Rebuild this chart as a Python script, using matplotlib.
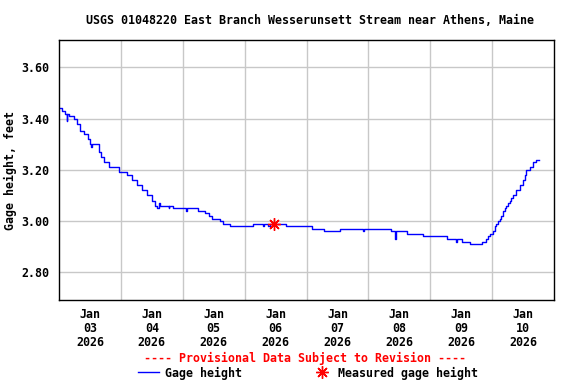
import matplotlib
matplotlib.use("Agg")
import matplotlib.pyplot as plt
from matplotlib.lines import Line2D

# hours since 2026-01-03 00:00, gage height (ft), step changes
hours = [0.0, 1.2, 2.5, 3.0, 3.2, 3.8, 5.7, 7.0, 8.3, 9.6, 11.1, 12.2, 12.5, 12.9,
         15.4, 16.1, 17.6, 19.3, 23.1, 26.4, 28.3, 30.3, 32.2, 34.1, 36.1, 37.4,
         38.0, 38.6, 39.3, 42.5, 42.8, 44.4, 49.4, 49.7, 54.1, 56.7, 58.0, 59.3,
         62.5, 63.8, 66.4, 75.2, 79.3, 79.6, 81.2, 81.9, 88.0, 98.0, 102.8, 109.0,
         118.0, 118.3, 128.6, 130.5, 130.8, 135.0, 141.2, 150.5, 153.9, 154.3,
         156.3, 159.3, 164.1, 165.8, 166.3, 167.0, 168.3, 169.0, 169.6, 170.3,
         170.9, 171.6, 172.2, 172.8, 173.5, 174.2, 174.8, 175.4, 176.1, 177.4,
         178.7, 179.9, 180.6, 181.2, 182.5, 183.8, 185.1, 186.1]
gage = [3.44, 3.43, 3.42, 3.39, 3.42, 3.41, 3.40, 3.38, 3.35, 3.34, 3.32, 3.30, 3.29, 3.30,
        3.27, 3.25, 3.23, 3.21, 3.19, 3.18, 3.16, 3.14, 3.12, 3.10, 3.08, 3.06,
        3.05, 3.07, 3.06, 3.05, 3.06, 3.05, 3.04, 3.05, 3.04, 3.03, 3.02, 3.01,
        3.00, 2.99, 2.98, 2.99, 2.98, 2.99, 2.98, 2.99, 2.98, 2.97, 2.96, 2.97,
        2.96, 2.97, 2.96, 2.93, 2.96, 2.95, 2.94, 2.93, 2.92, 2.93,
        2.92, 2.91, 2.92, 2.93, 2.94, 2.95, 2.96, 2.98, 2.99, 3.00,
        3.01, 3.02, 3.04, 3.05, 3.06, 3.07, 3.08, 3.09, 3.10, 3.12,
        3.14, 3.16, 3.18, 3.20, 3.21, 3.23, 3.24, 3.24]

meas_hours = [83.2]
meas_gage = [2.99]

day_labels = ["Jan\n03\n2026", "Jan\n04\n2026", "Jan\n05\n2026", "Jan\n06\n2026",
              "Jan\n07\n2026", "Jan\n08\n2026", "Jan\n09\n2026", "Jan\n10\n2026"]
ytick_vals = [2.80, 3.00, 3.20, 3.40, 3.60]

plt.rcParams['font.family'] = 'DejaVu Sans Mono'
plt.rcParams['font.weight'] = 'bold'
fs = 8.4

fig = plt.figure(figsize=(5.76, 3.84), dpi=100)
ax = fig.add_axes([59/576, 1 - 300/384, (554 - 59)/576, 260/384])

ax.plot(hours, gage, drawstyle='steps-post', color='#0000FF', lw=1.0)
ax.plot(meas_hours, meas_gage, linestyle='none', marker=(8, 2, 0), ms=9,
        mew=1.0, color='#FF0000')

ax.set_xlim(0, 192)
ax.set_ylim(2.692, 3.707)
ax.set_xticks([24 * i for i in range(1, 8)])
ax.set_xticks([12 + 24 * i for i in range(8)], minor=True)
ax.set_xticklabels([])
ax.set_xticklabels(day_labels, minor=True, fontsize=fs, fontweight='bold',
                   linespacing=1.1)
ax.set_yticks(ytick_vals)
ax.set_yticklabels([f"{v:.2f}" for v in ytick_vals], fontsize=fs, fontweight='bold')
ax.tick_params(axis='both', which='both', length=0)
ax.tick_params(axis='x', which='minor', pad=6)
ax.tick_params(axis='y', pad=7)
ax.grid(True, which='major', color='#C8C8C8', lw=1.0)
ax.set_axisbelow(True)
for s in ax.spines.values():
    s.set_linewidth(1.0)
    s.set_color('black')

ax.set_ylabel("Gage height, feet", fontsize=fs, fontweight='bold', labelpad=3)
fig.text(310/576, 1 - 20/384, "USGS 01048220 East Branch Wesserunsett Stream near Athens, Maine",
         ha='center', va='center', fontsize=fs, fontweight='bold')
fig.text(305/576, 1 - 358/384, "---- Provisional Data Subject to Revision ----",
         ha='center', va='center', fontsize=fs, fontweight='bold', color='#FF0000')

handles = [Line2D([], [], color='#0000FF', lw=1.0),
           Line2D([], [], linestyle='none', marker=(8, 2, 0), ms=9, mew=1.0, color='#FF0000')]
fig.legend(handles, ["Gage height", "Measured gage height"], loc='center',
           bbox_to_anchor=(308/576, 1 - 373/384), ncol=2, frameon=False,
           fontsize=fs, handlelength=1.8, handletextpad=0.5, columnspacing=6.0,
           borderpad=0, borderaxespad=0)

fig.savefig("out.png", dpi=100)
